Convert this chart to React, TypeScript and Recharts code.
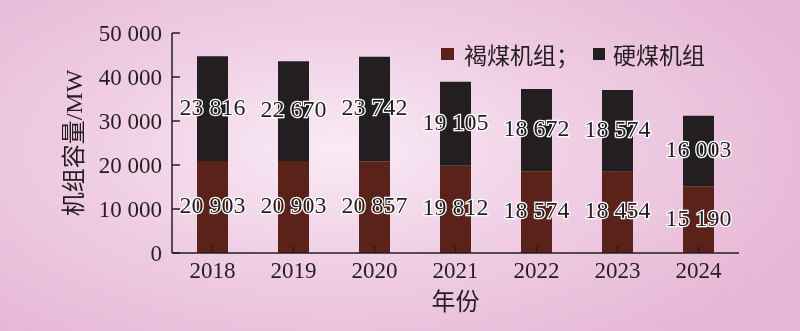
import React from 'react';
import { BarChart, Bar, XAxis, YAxis, LabelList } from 'recharts';

const years = ['2018', '2019', '2020', '2021', '2022', '2023', '2024'];
const lignite = [20903, 20903, 20857, 19812, 18574, 18454, 15190];
const hardCoal = [23816, 22670, 23742, 19105, 18672, 18574, 16003];
const yTicks = [0, 10000, 20000, 30000, 40000, 50000];

const FONT = '"Liberation Serif", "Noto Sans CJK SC", serif';
const BROWN = '#5a2219';
const BLACK = '#231f20';
const INK = '#231f20';

const rows = years.map((y, i) => ({ year: y, lignite: lignite[i], hard: hardCoal[i] }));

const fmt = (v: number) => String(v).replace(/\B(?=(\d{3})+(?!\d))/g, ' ');

const YTick = (p: any) => (
  <g>
    <line x1={p.x + 10} x2={p.x + 18} y1={p.y} y2={p.y} stroke={INK} strokeWidth={1.5} />
    <text x={p.x} y={p.y} textAnchor="end" dominantBaseline="central" fontSize={23} fill={INK} fontFamily={FONT}>
      {fmt(p.payload.value)}
    </text>
  </g>
);

// tickMargin is 2, so the axis line sits 2px above p.y
const XTick = (p: any) => (
  <g>
    <line x1={p.x} x2={p.x} y1={p.y - 2} y2={p.y - 9} stroke={INK} strokeWidth={1.5} />
    <text x={p.x} y={p.y} textAnchor="middle" dy={23} fontSize={23} fill={INK} fontFamily={FONT}>
      {p.payload.value}
    </text>
  </g>
);

const SegLabel = (p: any) => {
  const { x, y, width, height, value } = p;
  return (
    <text
      x={x + width / 2}
      y={y + height / 2 - 2}
      textAnchor="middle"
      dominantBaseline="central"
      fontSize={24}
      fontFamily={FONT}
      fill={INK}
      stroke="#fff"
      strokeWidth={2.5}
      paintOrder="stroke"
    >
      {fmt(value)}
    </text>
  );
};

const LegendBox = () => (
  <div
    style={{
      position: 'absolute',
      left: 441,
      top: 37,
      display: 'flex',
      alignItems: 'center',
      fontFamily: FONT,
      fontSize: 23,
      color: INK,
      whiteSpace: 'nowrap',
    }}
  >
    <span style={{ width: 13, height: 12, background: BROWN, display: 'inline-block', marginRight: 10 }} />
    <span>褐煤机组；</span>
    <span style={{ width: 12, height: 12, background: BLACK, display: 'inline-block', margin: '0 8px 0 14px' }} />
    <span>硬煤机组</span>
  </div>
);

export default function App() {
  return (
    <div
      style={{
        position: 'fixed',
        left: 0,
        top: 0,
        width: 800,
        height: 331,
        background: 'radial-gradient(ellipse 65% 75% at 42% 45%, #f9ebf5 0%, #f0cfe5 45%, #e6b6d5 100%)',
      }}
    >
      <BarChart width={800} height={331} data={rows} margin={{ top: 33, right: 61, bottom: 0, left: 0 }}>
        <YAxis
          width={172}
          domain={[0, 50000]}
          ticks={yTicks}
          tickSize={0}
          tickMargin={10}
          tick={<YTick />}
          axisLine={{ stroke: INK, strokeWidth: 1.5 }}
          tickLine={false}
          label={{
            value: '机组容量/MW',
            angle: -90,
            position: 'insideLeft',
            offset: 73,
            style: { fontFamily: FONT, fontSize: 24, fill: INK, textAnchor: 'middle' },
          }}
        />
        <XAxis
          dataKey="year"
          height={78}
          tickSize={0}
          tickMargin={2}
          tick={<XTick />}
          axisLine={{ stroke: INK, strokeWidth: 1.5 }}
          tickLine={false}
          label={{
            value: '年份',
            position: 'insideBottom',
            offset: 21,
            style: { fontFamily: FONT, fontSize: 24, fill: INK },
          }}
        />
        <Bar dataKey="lignite" stackId="a" fill={BROWN} barSize={31} isAnimationActive={false}>
          <LabelList dataKey="lignite" content={<SegLabel />} />
        </Bar>
        <Bar dataKey="hard" stackId="a" fill={BLACK} barSize={31} isAnimationActive={false}>
          <LabelList dataKey="hard" content={<SegLabel />} />
        </Bar>
      </BarChart>
      <LegendBox />
    </div>
  );
}
